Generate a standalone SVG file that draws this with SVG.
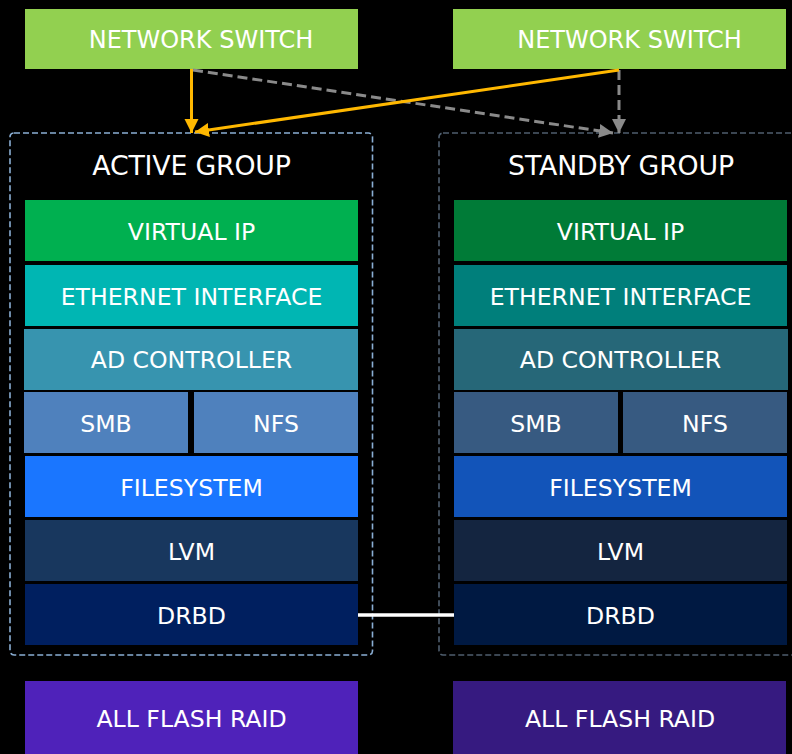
<svg xmlns="http://www.w3.org/2000/svg" width="792" height="754" viewBox="0 0 792 754">
  <defs>
    <style>
      .lbl { font-family: "DejaVu Sans", "Liberation Sans", sans-serif; font-size: 23.6px; fill: #ffffff; text-anchor: middle; }
      .sw { font-size: 24px; }
      .grp { font-size: 26.8px; letter-spacing: -0.2px; }
      .frame { fill: none; stroke-width: 1.6; stroke-dasharray: 6 3; }
      .yl { stroke: #FFB800; stroke-width: 3; fill: none; }
      .gl { stroke: #8A8A8A; stroke-width: 3; fill: none; stroke-dasharray: 10 5; }
    </style>
    <marker id="ah-y" markerUnits="userSpaceOnUse" markerWidth="16" markerHeight="16" refX="14" refY="7" orient="auto">
      <path d="M0,0 L14,7 L0,14 Z" fill="#FFB800"/>
    </marker>
    <marker id="ah-g" markerUnits="userSpaceOnUse" markerWidth="16" markerHeight="16" refX="14" refY="7" orient="auto">
      <path d="M0,0 L14,7 L0,14 Z" fill="#8A8A8A"/>
    </marker>
  </defs>

  <rect x="0" y="0" width="792" height="754" fill="#000000"/>

  <!-- switches -->
  <g id="switch-a">
    <rect x="25" y="9" width="333" height="60" fill="#92D050"/>
    <text class="lbl sw" x="201" y="48">NETWORK SWITCH</text>
  </g>
  <g id="switch-b">
    <rect x="453" y="9" width="333" height="60" fill="#92D050"/>
    <text class="lbl sw" x="629.5" y="48">NETWORK SWITCH</text>
  </g>

  <!-- group frames -->
  <g id="active-group">
    <rect class="frame" x="10" y="133" width="362.5" height="522" rx="4" stroke="#8AAED4"/>
    <text class="lbl grp" x="191.5" y="175">ACTIVE GROUP</text>
  </g>
  <g id="standby-group">
    <rect class="frame" x="439" y="133" width="363" height="522" rx="4" stroke="#4F5E6E"/>
    <text class="lbl grp" x="621" y="175">STANDBY GROUP</text>
  </g>

  <!-- active stack -->
  <g id="a-vip"><rect x="25" y="200" width="333" height="61" fill="#00B050"/><text class="lbl" x="191.5" y="239.5">VIRTUAL IP</text></g>
  <g id="a-eth"><rect x="25" y="265" width="333" height="61" fill="#00B6B3"/><text class="lbl" x="191.5" y="304.5">ETHERNET INTERFACE</text></g>
  <g id="a-ad"><rect x="24" y="329" width="334" height="61" fill="#3794AF"/><text class="lbl" x="191.5" y="368">AD CONTROLLER</text></g>
  <g id="a-smb"><rect x="24" y="392" width="164" height="61" fill="#4F81BD"/><text class="lbl" x="106" y="431.5">SMB</text></g>
  <g id="a-nfs"><rect x="194" y="392" width="164" height="61" fill="#4F81BD"/><text class="lbl" x="276" y="431.5">NFS</text></g>
  <g id="a-fs"><rect x="25" y="456" width="333" height="61" fill="#1A76FF"/><text class="lbl" x="191.5" y="495.5">FILESYSTEM</text></g>
  <g id="a-lvm"><rect x="25" y="520" width="333" height="61" fill="#18375E"/><text class="lbl" x="191.5" y="559.5">LVM</text></g>
  <g id="a-drbd"><rect x="25" y="584" width="333" height="61" fill="#001F5F"/><text class="lbl" x="191.5" y="623.5">DRBD</text></g>

  <!-- standby stack -->
  <g id="b-vip"><rect x="454" y="200" width="333" height="61" fill="#007B37"/><text class="lbl" x="620.5" y="239.5">VIRTUAL IP</text></g>
  <g id="b-eth"><rect x="454" y="265" width="333" height="61" fill="#007F7B"/><text class="lbl" x="620.5" y="304.5">ETHERNET INTERFACE</text></g>
  <g id="b-ad"><rect x="454" y="329" width="334" height="61" fill="#266778"/><text class="lbl" x="620.5" y="368">AD CONTROLLER</text></g>
  <g id="b-smb"><rect x="454" y="392" width="164" height="61" fill="#375A81"/><text class="lbl" x="536" y="431.5">SMB</text></g>
  <g id="b-nfs"><rect x="623" y="392" width="164" height="61" fill="#375A81"/><text class="lbl" x="705" y="431.5">NFS</text></g>
  <g id="b-fs"><rect x="454" y="456" width="333" height="61" fill="#1254B9"/><text class="lbl" x="620.5" y="495.5">FILESYSTEM</text></g>
  <g id="b-lvm"><rect x="454" y="520" width="333" height="61" fill="#142540"/><text class="lbl" x="620.5" y="559.5">LVM</text></g>
  <g id="b-drbd"><rect x="454" y="584" width="333" height="61" fill="#001942"/><text class="lbl" x="620.5" y="623.5">DRBD</text></g>

  <!-- storage -->
  <g id="a-raid"><rect x="25" y="681" width="333" height="73" fill="#4F22BA"/><text class="lbl" x="191.5" y="726.5">ALL FLASH RAID</text></g>
  <g id="b-raid"><rect x="453" y="681" width="333" height="73" fill="#361A80"/><text class="lbl" x="620" y="726.5">ALL FLASH RAID</text></g>

  <!-- connectors -->
  <g id="connectors">
    <line class="gl" x1="193" y1="70" x2="613" y2="133" marker-end="url(#ah-g)"/>
    <line class="gl" x1="619" y1="70" x2="619" y2="133" marker-end="url(#ah-g)"/>
    <line class="yl" x1="191.5" y1="69" x2="191.5" y2="133" marker-end="url(#ah-y)"/>
    <line class="yl" x1="619" y1="70" x2="195" y2="132" marker-end="url(#ah-y)"/>
    <line x1="358" y1="615" x2="454" y2="615" stroke="#ffffff" stroke-width="3.5"/>
  </g>
</svg>
